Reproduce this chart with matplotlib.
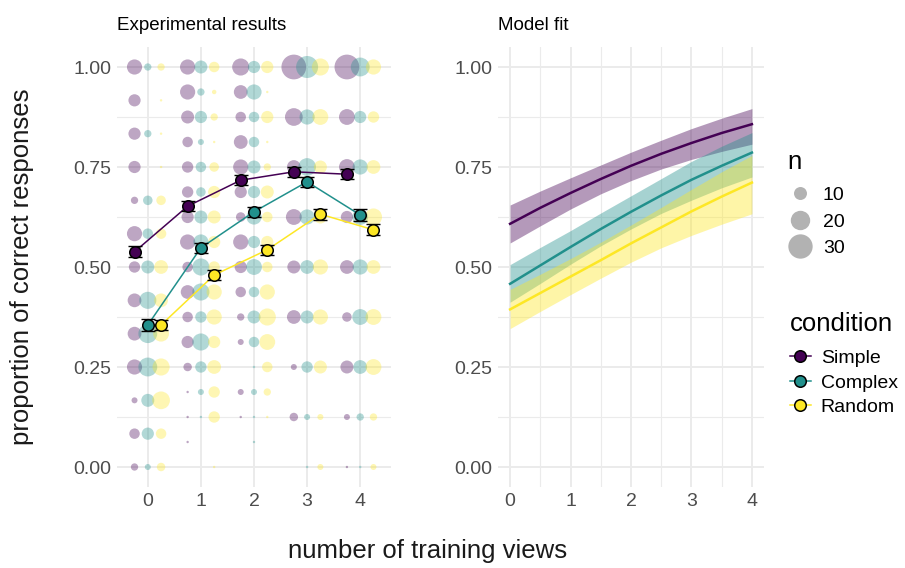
import numpy as np
import matplotlib.pyplot as plt
from matplotlib.lines import Line2D

plt.rcParams['font.family'] = ['Liberation Sans', 'DejaVu Sans']

conditions = ['Simple', 'Complex', 'Random']
colors = ['#440154', '#21908C', '#FDE725']
views = [0, 1, 2, 3, 4]
trials = [12, 16, 16, 8, 8]   # possible proportions = k / trials, listed from 1 down to 0

# number of participants at each proportion level (top = 1.00 ... bottom = 0.00)
n_simple = [
    [13, 9, 9, 9, 4, 13, 8, 11, 11, 13, 3, 7, 4],
    [13, 13, 10, 7, 8, 8, 9, 13, 7, 11, 7, 9, 5, 1, 1, 1, 0],
    [16, 11, 7, 11, 13, 9, 6, 13, 9, 7, 4, 3, 0, 3, 1, 0, 0],
    [31, 17, 11, 14, 10, 11, 3, 5, 0],
    [31, 14, 14, 9, 11, 6, 10, 3, 1],
]
n_complex = [
    [4, 0, 4, 0, 6, 7, 10, 16, 19, 19, 10, 9, 3],
    [10, 4, 9, 3, 7, 6, 10, 13, 16, 16, 8, 16, 8, 3, 1, 0, 0],
    [9, 13, 7, 7, 10, 9, 13, 9, 14, 7, 10, 7, 1, 3, 1, 1, 0],
    [25, 13, 17, 13, 11, 10, 8, 3, 1],
    [19, 9, 13, 14, 13, 14, 11, 4, 1],
]
n_random = [
    [4, 1, 1, 1, 6, 7, 11, 11, 14, 16, 17, 7, 5],
    [7, 2, 4, 1, 6, 9, 10, 9, 8, 13, 13, 9, 11, 8, 8, 0, 1],
    [9, 1, 9, 1, 4, 10, 7, 9, 7, 13, 16, 14, 7, 4, 1, 0, 0],
    [16, 14, 10, 10, 13, 13, 10, 3, 3],
    [13, 8, 11, 16, 11, 14, 14, 4, 3],
]

# condition means and standard errors
mean_simple = [0.538, 0.652, 0.717, 0.738, 0.732]
mean_complex = [0.355, 0.548, 0.638, 0.713, 0.630]
mean_random = [0.355, 0.480, 0.543, 0.632, 0.593]
se_simple = [0.014, 0.012, 0.012, 0.012, 0.013]
se_complex = [0.014, 0.013, 0.012, 0.013, 0.014]
se_random = [0.013, 0.013, 0.012, 0.014, 0.014]

# model fit (estimate and 95% band)
fit_x = [0, 0.5, 1, 1.5, 2, 2.5, 3, 3.5, 4]
fit_simple = [0.608, 0.648, 0.685, 0.720, 0.753, 0.783, 0.810, 0.835, 0.857]
lo_simple = [0.560, 0.603, 0.645, 0.683, 0.716, 0.745, 0.769, 0.789, 0.807]
hi_simple = [0.655, 0.690, 0.723, 0.755, 0.787, 0.817, 0.846, 0.872, 0.896]
fit_complex = [0.458, 0.504, 0.550, 0.595, 0.638, 0.679, 0.718, 0.753, 0.786]
lo_complex = [0.412, 0.459, 0.507, 0.553, 0.595, 0.634, 0.667, 0.698, 0.725]
hi_complex = [0.506, 0.549, 0.591, 0.635, 0.678, 0.721, 0.764, 0.802, 0.836]
fit_random = [0.394, 0.435, 0.476, 0.517, 0.559, 0.599, 0.639, 0.676, 0.711]
lo_random = [0.346, 0.389, 0.431, 0.472, 0.512, 0.548, 0.579, 0.607, 0.633]
hi_random = [0.444, 0.482, 0.521, 0.562, 0.605, 0.649, 0.694, 0.738, 0.779]

n_all = [n_simple, n_complex, n_random]
means = [mean_simple, mean_complex, mean_random]
ses = [se_simple, se_complex, se_random]
fits = [(fit_simple, lo_simple, hi_simple),
        (fit_complex, lo_complex, hi_complex),
        (fit_random, lo_random, hi_random)]
dodge = [-0.25, 0.0, 0.25]


def size_of(n):
    # point diameter in px grows with sqrt(n); scatter wants pt^2 (dpi 100)
    d = np.clip(4.9 * np.sqrt(np.asarray(n, dtype=float)) - 2.5, 0, None)
    return (d * 0.72) ** 2


fig = plt.figure(figsize=(9.05, 5.68), dpi=100)
ax1 = fig.add_axes([117 / 905, 81 / 568, 274 / 905, 440 / 568])
ax2 = fig.add_axes([498 / 905, 81 / 568, 266 / 905, 440 / 568])

grid_col = '#EBEBEB'
for ax in (ax1, ax2):
    ax.set_ylim(-0.05, 1.05)
    ax.set_yticks([0, 0.25, 0.5, 0.75, 1.0])
    ax.set_yticklabels(['0.00', '0.25', '0.50', '0.75', '1.00'])
    ax.set_yticks([0.125, 0.375, 0.625, 0.875], minor=True)
    ax.set_xticks(views)
    ax.grid(True, which='major', color=grid_col, lw=1.4)
    ax.grid(True, which='minor', axis='y', color=grid_col, lw=0.8)
    ax.set_axisbelow(True)
    for s in ax.spines.values():
        s.set_visible(False)
    ax.tick_params(which='both', length=0, labelsize=14, labelcolor='#4D4D4D', pad=4)

ax1.set_xlim(-0.58, 4.58)
ax2.set_xlim(-0.2, 4.2)
ax2.set_xticks([0.5, 1.5, 2.5, 3.5], minor=True)
ax2.grid(True, which='minor', axis='x', color=grid_col, lw=0.8)

# left: individual responses as bubbles
for ci in range(3):
    for xi, v in enumerate(views):
        t = trials[xi]
        lev = np.arange(t, -1, -1) / t
        n = np.array(n_all[ci][xi])
        keep = n > 0
        ax1.scatter(np.full(keep.sum(), v + dodge[ci]), lev[keep], s=size_of(n[keep]),
                    color=colors[ci], alpha=0.35, linewidths=0, zorder=2)

for ci in range(3):
    xs = np.array(views) + dodge[ci]
    ax1.plot(xs, means[ci], color=colors[ci], lw=1.1, zorder=3)
    ax1.errorbar(xs, means[ci], yerr=ses[ci], fmt='none', ecolor='black',
                 elinewidth=1.0, capsize=4.7, capthick=1.0, zorder=4)
    ax1.scatter(xs, means[ci], s=(11.5 * 0.72) ** 2, color=colors[ci],
                edgecolors='black', linewidths=1.1, zorder=5)

# right: model fit
for ci in range(3):
    f, lo, hi = fits[ci]
    ax2.fill_between(fit_x, lo, hi, color=colors[ci], alpha=0.4, lw=0, zorder=2)
for ci in range(3):
    ax2.plot(fit_x, fits[ci][0], color=colors[ci], lw=1.8, zorder=3)

ax1.set_title('Experimental results', loc='left', fontsize=13.5, pad=12)
ax2.set_title('Model fit', loc='left', fontsize=13.5, pad=12)

fig.text(22 / 905, 1 - 267 / 568, 'proportion of correct responses', rotation=90,
         ha='center', va='center', fontsize=18.5, color='#1A1A1A')
fig.text(428 / 905, 1 - 551 / 568, 'number of training views',
         ha='center', va='center', fontsize=18.5, color='#1A1A1A')

# legends
size_handles = [Line2D([], [], ls='none', marker='o', color='black', alpha=0.3,
                       mec='none', ms=np.sqrt(size_of(k))) for k in (10, 20, 30)]
leg1 = fig.legend(size_handles, ['10', '20', '30'], title='n', loc='upper left',
                  bbox_to_anchor=(778 / 905, 1 - 140 / 568), frameon=False, fontsize=14,
                  title_fontsize=18.5, alignment='left', handlelength=1.3,
                  handletextpad=0.5, labelspacing=0.45, borderpad=0)
leg1._legend_box.sep = 9.3   # gap between title and keys

cond_handles = [Line2D([], [], color=c, lw=1.1, marker='o', mfc=c, mec='black',
                       mew=1.1, ms=8.3) for c in colors]
leg2 = fig.legend(cond_handles, conditions, title='condition', loc='upper left',
                  bbox_to_anchor=(780 / 905, 1 - 302 / 568), frameon=False, fontsize=14,
                  title_fontsize=18.5, alignment='left', handlelength=1.1,
                  handletextpad=0.5, labelspacing=0.35, borderpad=0)
leg2._legend_box.sep = 10

fig.savefig('out.png', dpi=100)
